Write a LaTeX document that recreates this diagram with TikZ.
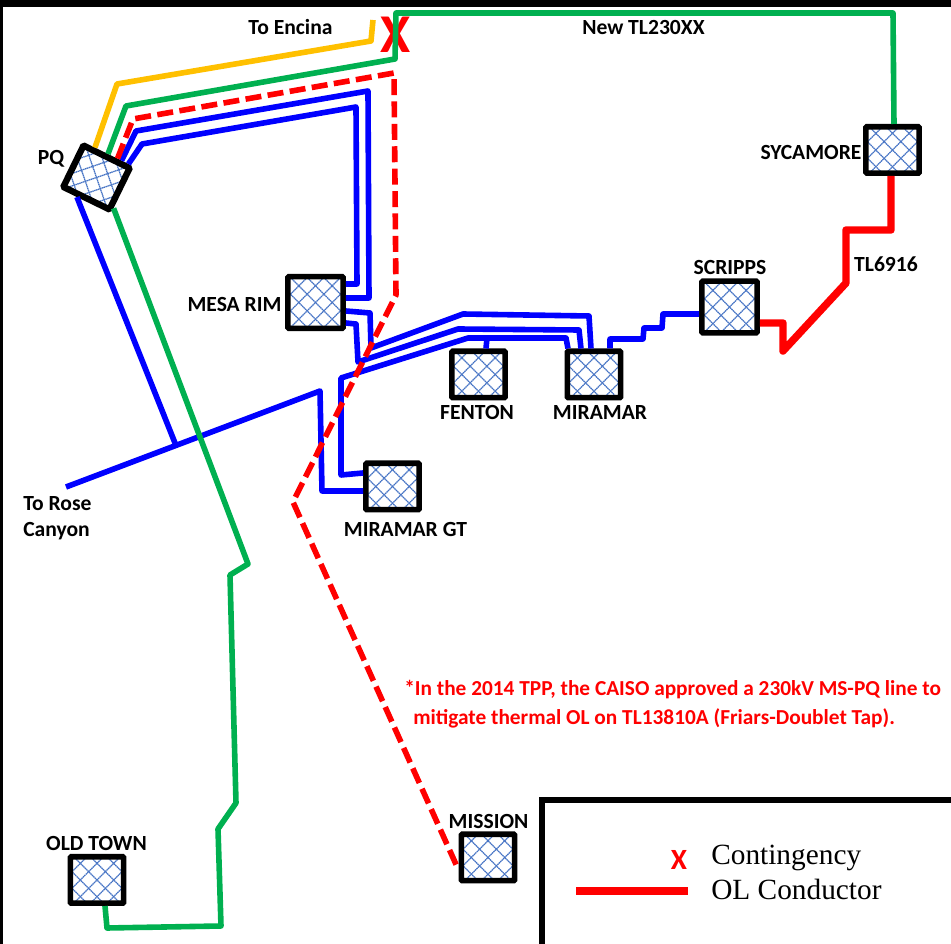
\documentclass[tikz,border=0pt]{standalone}
\usepackage{fontspec}
\setmainfont{Carlito}
\newfontfamily\legendfont{Liberation Serif}
\usetikzlibrary{calc}
\definecolor{LineBlue}{RGB}{0,0,255}
\definecolor{LineGreen}{RGB}{0,176,80}
\definecolor{LineGold}{RGB}{255,192,0}
\definecolor{LineRed}{RGB}{255,0,0}
\definecolor{HatchBlue}{RGB}{68,114,196}

\begin{document}
\begin{tikzpicture}[
            x=0.75pt, y=-0.75pt,
            hatch/.style={HatchBlue, line width=0.95pt, dash pattern=on 1.1pt off 0.4pt},
            station/.style={draw=black, fill=white, line width=4.2pt, rounded corners=0.8pt, inner sep=0pt,
                minimum width=40pt, minimum height=34.8pt,
                path picture={
                    \foreach \i in {-5,...,5} {
                        \draw[hatch] ($(path picture bounding box.center)+(\i*12.5pt-50pt,-50pt)$) -- ++(100pt,100pt);
                        \draw[hatch] ($(path picture bounding box.center)+(\i*12.5pt+50pt,-50pt)$) -- ++(-100pt,100pt);
                    }
                }},
            bigstation/.style={station, minimum width=41.5pt, minimum height=38.8pt},
            lbl/.style={inner sep=0pt, font=\bfseries\fontsize{16.2}{19.5}\selectfont},
            note/.style={inner sep=0pt, anchor=west, text=LineRed, font=\bfseries\fontsize{16}{18}\selectfont},
            legendtxt/.style={inner sep=0pt, anchor=base west, font=\legendfont\fontsize{22}{26}\selectfont},
            wire/.style={line width=4.2pt, line join=round},
            bluewire/.style={wire, LineBlue},
            greenwire/.style={wire, LineGreen},
            goldwire/.style={wire, LineGold},
            reddash/.style={wire, LineRed, dash pattern=on 12pt off 4.8pt},
            redwire/.style={line width=5.6pt, line join=round, LineRed}
        ]
            \useasboundingbox (0,0) rectangle (951,944);
            \fill[black] (0,0) rectangle (951,7);
            \fill[black] (0,0) rectangle (3,944);

            \node[inner sep=0pt, text=LineRed, font=\bfseries\fontsize{41}{41}\selectfont] (contx) at (396,35) {X};

            \node[station, rotate=-26, line width=4.8pt, minimum width=38.5pt, minimum height=34.5pt] (pq) at (96.5,177.5) {};
            \node[bigstation] (mesarim)  at (315.5,302.5) {};
            \node[station]    (fenton)   at (478.5,374.5) {};
            \node[station]    (miramar)  at (594,374.5)   {};
            \node[station]    (miramargt) at (392.5,486.5) {};
            \node[station]    (sycamore) at (892.5,150)   {};
            \node[bigstation] (scripps)  at (729.5,307)   {};
            \node[station]    (mission)  at (488,857.5)   {};
            \node[station]    (oldtown)  at (97,880)      {};

            \coordinate (encinaend) at (373,20);
            \coordinate (roseend)   at (66,487);
            \coordinate (rosetap)   at (176,445.5);
            \coordinate (fentontap) at (487,338);

            \draw[bluewire] (pq.60) -- (136,131) -- (368,91) -- (369,298) -- (mesarim.east |- 0,298);
            \draw[bluewire] (pq.49) -- (142,144) -- (356,107) -- (357,284) -- (mesarim.east |- 0,284);
            \draw[bluewire] (mesarim.east |- 0,311) -- (370,313) -- (371,348) -- (463,314) -- (589,316) -- (miramar.north -| 591,0);
            \draw[bluewire] (mesarim.east |- 0,323) -- (356,324) -- (358,362) -- (458,329) -- (579,330) -- (miramar.north -| 581,0);
            \draw[bluewire] (miramargt.west |- 0,473) -- (341,475) -- (341,378) -- (468,338) -- (566,338) -- (miramar.north -| 568,0);
            \draw[bluewire] (fentontap) -- (fenton.north -| 486,0);
            \draw[bluewire] (miramargt.west |- 0,491) -- (322,491) -- (320,391) -- (roseend);
            \draw[bluewire] (pq.-109) -- (rosetap);
            \draw[bluewire] (miramar.north -| 610,0) -- (610,339) -- (643,339) -- (644,328) -- (662,328) -- (663,314) -- (scripps.west |- 0,314);

            \draw[goldwire] (pq.119) -- (117,84) -- (371,41) -- (encinaend);
            \draw[greenwire] (pq.north) -- (126,106) -- (395,59) -- (396,13) -- (893,13) -- (sycamore.north -| 894,0);
            \draw[greenwire] (pq.-35) -- (248,564) -- (230,575) -- (236,803) -- (218,829) -- (221,926) -- (107,928) -- (oldtown.south -| 105,0);

            \draw[reddash] (pq.68) -- (133,119) -- (394,73) -- (396,295) -- (293,502) -- (mission.west |- 0,870);
            \draw[redwire] (scripps.east |- 0,323) -- (783,323) -- (783,351) -- (846,283) -- (846,230) -- (891,230) -- (sycamore.south -| 891,0);

            \node[lbl] (lblencina)   at (290.5,27)  {To Encina};
            \node[lbl] (lblnewline)  at (643.5,28)  {New TL230XX};
            \node[lbl] (lblpq)       at (51,159)    {PQ};
            \node[lbl] (lblmesarim)  at (234.5,304.5) {MESA RIM};
            \node[lbl] (lblsycamore) at (811,152.5) {SYCAMORE};
            \node[lbl] (lbltl)       at (886,264)   {TL6916};
            \node[lbl] (lblscripps)  at (730,267)   {SCRIPPS};
            \node[lbl] (lblfenton)   at (477,412.5) {FENTON};
            \node[lbl] (lblmiramar)  at (600,412.5) {MIRAMAR};
            \node[lbl] (lblmiramargt) at (405.5,529) {MIRAMAR GT};
            \node[lbl] (lblmission)  at (488.5,821) {MISSION};
            \node[lbl] (lbloldtown)  at (96.5,843)  {OLD TOWN};
            \node[lbl, align=left, anchor=west] (lblrose) at (23,518.5) {To Rose\\Canyon};

            \node[note] (noteone) at (404,690) {*In the 2014 TPP, the CAISO approved a 230kV MS-PQ line to};
            \node[note] (notetwo) at (413,718) {mitigate thermal OL on TL13810A (Friars-Doublet Tap).};

            \draw[black, line width=4.1pt] (542,944) -- (542,800) -- (951,800);
            \coordinate (legendstart) at (576,891);
            \coordinate (legendend)   at (688,891);
            \draw[LineRed, line width=6.4pt] (legendstart) -- (legendend);
            \node[inner sep=0pt, text=LineRed, font=\bfseries\fontsize{22}{22}\selectfont] (legendx) at (679,860) {X};
            \node[legendtxt] (legendcont) at (711,865) {Contingency};
            \node[legendtxt] (legendol)   at (711,900) {OL Conductor};
        \end{tikzpicture}
\end{document}
